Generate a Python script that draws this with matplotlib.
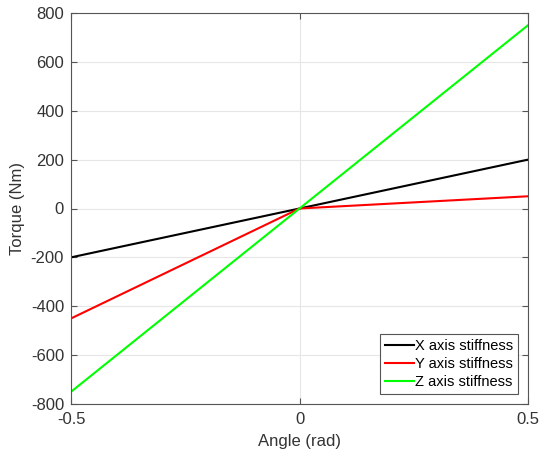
import matplotlib
matplotlib.use("Agg")
import matplotlib.pyplot as plt

plt.rcParams['font.family'] = ['Liberation Sans', 'DejaVu Sans']

angle = [-0.5, 0.0, 0.5]
torque_x = [-200, 0, 200]
torque_y = [-450, 0, 50]
torque_z = [-750, 0, 750]

labels = ["X axis stiffness", "Y axis stiffness", "Z axis stiffness"]
colors = ["#000000", "#ff0000", "#00ff00"]

fig = plt.figure(figsize=(5.4, 4.54), dpi=100)
ax = fig.add_axes([71 / 540, 1 - 404 / 454, 457 / 540, 391 / 454])

for y, lab, c in zip([torque_x, torque_y, torque_z], labels, colors):
    ax.plot(angle, y, color=c, linewidth=1.5, label=lab)

ax.set_xlim(-0.5, 0.5)
ax.set_ylim(-800, 800)
ax.set_xticks([-0.5, 0, 0.5])
ax.set_xticklabels(["-0.5", "0", "0.5"])
ax.set_yticks(range(-800, 801, 200))
ax.set_yticklabels([str(v) for v in range(-800, 801, 200)])

ax.set_axisbelow(True)
ax.grid(True, color="#e6e6e6", linewidth=0.8)
for s in ax.spines.values():
    s.set_color("#555555")
    s.set_linewidth(0.8)
ax.tick_params(direction="in", length=4, colors="#555555", labelsize=12,
               labelcolor="#333333", top=True, right=True)
ax.tick_params(axis="x", pad=6)
ax.tick_params(axis="y", pad=5)

ax.set_xlabel("Angle (rad)", fontsize=12, color="#333333", labelpad=5)
ax.set_ylabel("Torque (Nm)", fontsize=12, color="#333333", labelpad=4)

leg = ax.legend(loc="lower right", fontsize=10.5, handlelength=2.0, handletextpad=0.1,
                borderpad=0.3, labelspacing=0.3, fancybox=False, framealpha=1,
                edgecolor="#555555", borderaxespad=0.7)
leg.get_frame().set_linewidth(0.8)

fig.savefig("out.png", dpi=100)
